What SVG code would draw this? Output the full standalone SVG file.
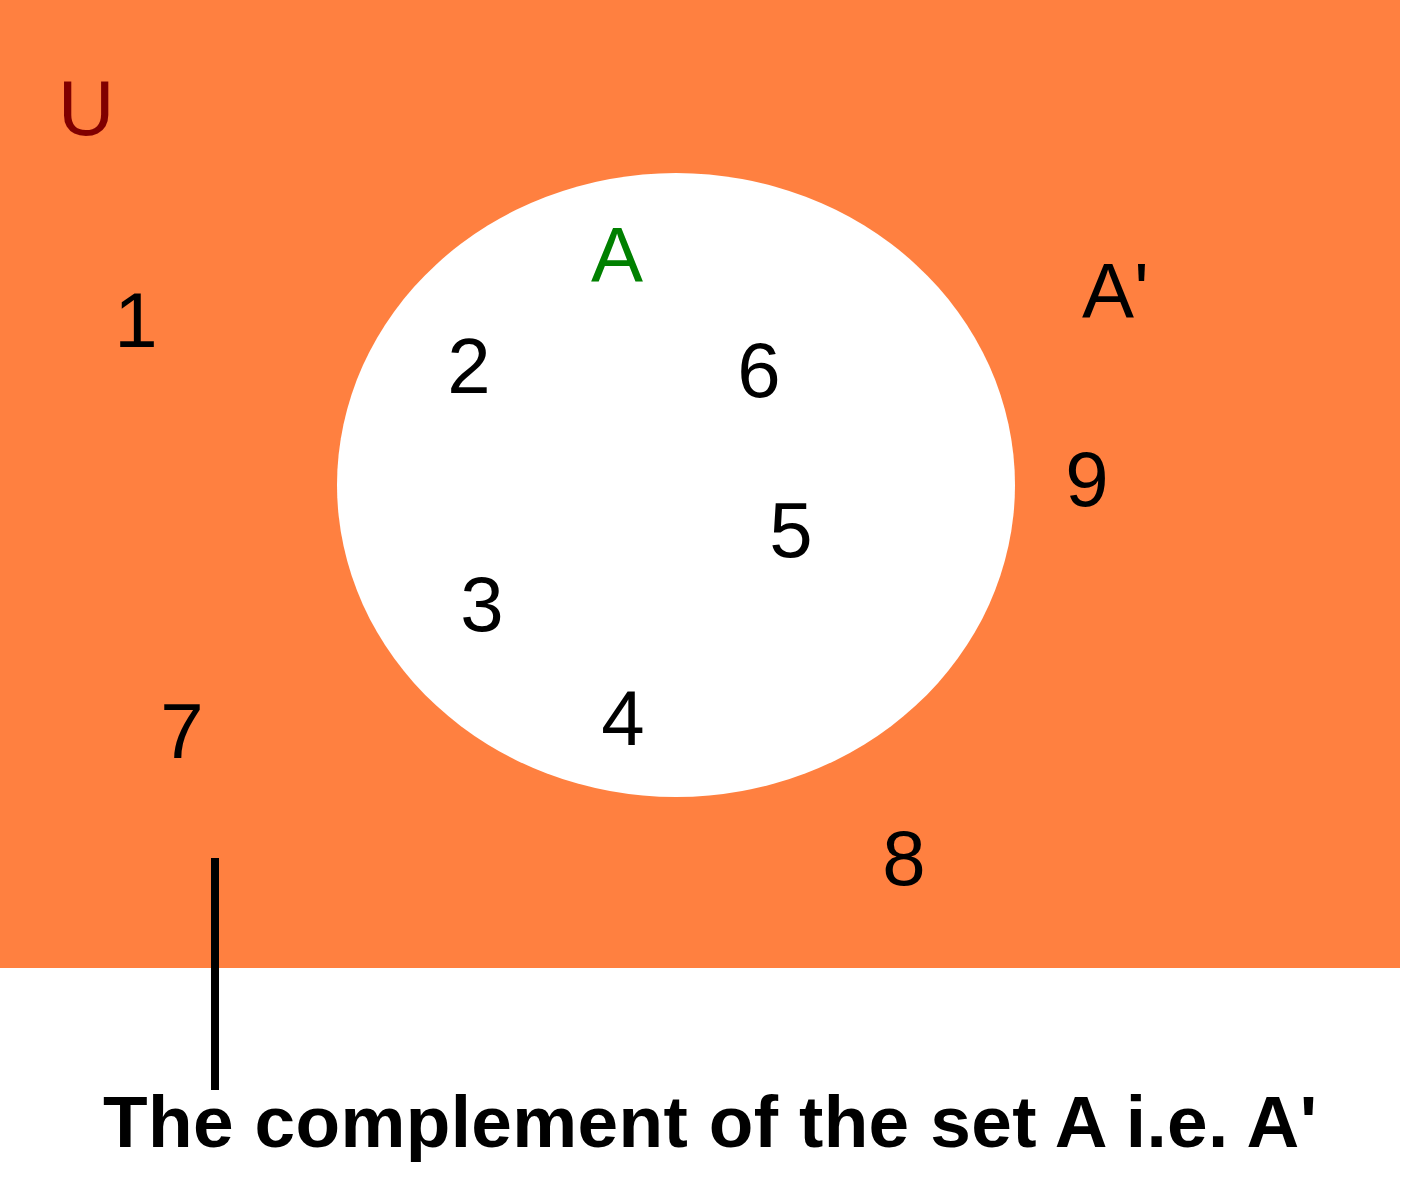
<svg xmlns="http://www.w3.org/2000/svg" width="1410" height="1200" viewBox="0 0 1410 1200">
<style>
.t{font-family:"Liberation Sans",Arial,sans-serif;font-size:78px;fill:#000}
.c{text-anchor:middle}
.cap{font-family:"Liberation Sans",Arial,sans-serif;font-size:73px;font-weight:bold;fill:#000}
</style>
<rect width="1410" height="1200" fill="#ffffff"/>
<g id="universe">
<rect x="0" y="0" width="1400" height="968" fill="#FF8040"/>
<text class="t" x="58" y="135" style="fill:#800000">U</text>
<text class="t" x="1082" y="318">A'</text>
</g>
<g id="setA">
<ellipse cx="676" cy="485" rx="339" ry="312" fill="#ffffff"/>
<text class="t c" x="617" y="282" style="fill:#008000">A</text>
</g>
<g id="elements">
<text class="t c" x="136" y="347">1</text>
<text class="t c" x="469" y="393">2</text>
<text class="t c" x="482" y="631">3</text>
<text class="t c" x="623" y="745">4</text>
<text class="t c" x="791" y="557">5</text>
<text class="t c" x="759" y="397">6</text>
<text class="t c" x="182" y="758">7</text>
<text class="t c" x="904" y="885">8</text>
<text class="t c" x="1087" y="506">9</text>
</g>
<g id="connectors">
<line x1="215" y1="858" x2="215" y2="1090" stroke="#000" stroke-width="8"/>
</g>
<g id="caption">
<text class="cap" x="103" y="1147" textLength="1214" lengthAdjust="spacing">The complement of the set A i.e. A'</text>
</g>
</svg>
